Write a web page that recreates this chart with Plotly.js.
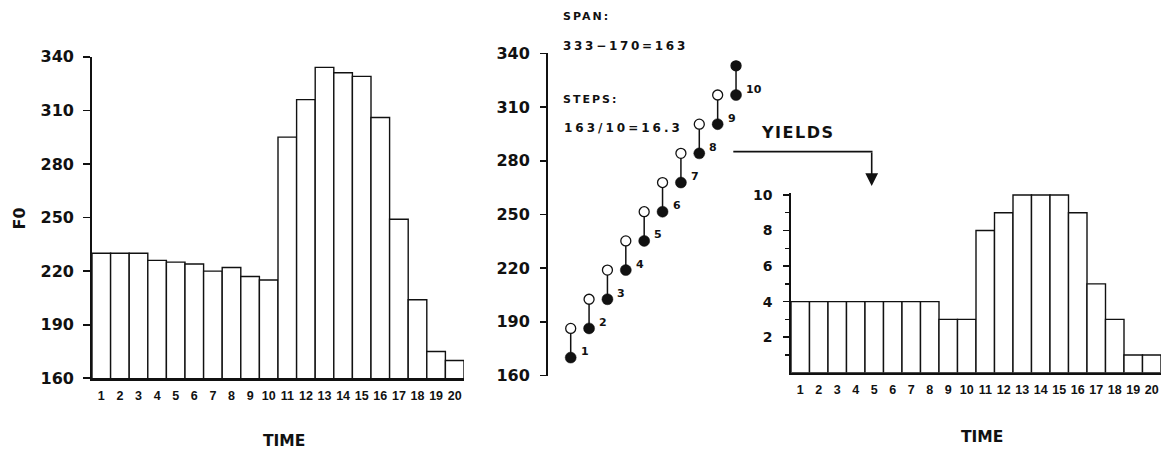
<!DOCTYPE html>
<html>
<head>
<meta charset="utf-8">
<script src="https://cdn.plot.ly/plotly-3.0.1.min.js"></script>
<style>
  html, body { margin: 0; padding: 0; background: #fff; }
  #chart { width: 1163px; height: 451px; }
</style>
</head>
<body>
<div id="chart"></div>
<script>
// ---- data ----
const timeSteps = [1, 2, 3, 4, 5, 6, 7, 8, 9, 10, 11, 12, 13, 14, 15, 16, 17, 18, 19, 20];
const f0Values = [230, 230, 230, 226, 225, 224, 220, 222, 217, 215, 295, 316, 334, 331, 329, 306, 249, 204, 175, 170];
const stepValues = [4, 4, 4, 4, 4, 4, 4, 4, 3, 3, 8, 9, 10, 10, 10, 9, 5, 3, 1, 1];
const pairIndex = [1, 2, 3, 4, 5, 6, 7, 8, 9, 10];
const lowerF0 = [170, 186.3, 202.6, 218.9, 235.2, 251.5, 267.8, 284.1, 300.4, 316.7];
const upperF0 = [186.3, 202.6, 218.9, 235.2, 251.5, 267.8, 284.1, 300.4, 316.7, 333];
const pairLabels = ['1', '2', '3', '4', '5', '6', '7', '8', '9', '10'];
const f0Ticks = [160, 190, 220, 250, 280, 310, 340];
const stepTicks = [2, 4, 6, 8, 10];
const stepMinorTicks = [1, 3, 5, 7, 9];
const spanTitle = 'SPAN:';
const spanText = '333−170=163';
const stepsTitle = 'STEPS:';
const stepsText = '163/10=16.3';
const yieldsText = 'YIELDS';
const timeTitle = 'TIME';
const f0Title = 'F0';

// ---- styles ----
const INK = '#111111';
const W = 1163, H = 451;
const px = v => v / W;
const py = v => 1 - v / H;
const tickFontY = { family: 'DejaVu Sans, Verdana, sans-serif', size: 16, color: INK, weight: 'bold' };
const tickFontX = { family: 'Liberation Sans, Arial, sans-serif', size: 12.5, color: INK, weight: 'bold' };

// stems between lower (filled) and upper (open) points
const stemX = [], stemY = [];
pairIndex.forEach((k, i) => { stemX.push(k, k, null); stemY.push(lowerF0[i], upperF0[i], null); });

const traces = [
  {
    type: 'bar', x: timeSteps, y: f0Values, xaxis: 'x', yaxis: 'y',
    width: 1, marker: { color: '#ffffff', line: { color: INK, width: 1.4 } },
    hoverinfo: 'x+y'
  },
  {
    type: 'scatter', mode: 'lines', x: stemX, y: stemY, xaxis: 'x2', yaxis: 'y2',
    line: { color: INK, width: 1.5 }, cliponaxis: false, hoverinfo: 'skip'
  },
  {
    type: 'scatter', mode: 'markers', x: pairIndex, y: upperF0, xaxis: 'x2', yaxis: 'y2',
    marker: { size: 10, color: upperF0.map((v, i) => i === upperF0.length - 1 ? INK : '#ffffff'),
              line: { color: INK, width: 1.3 } },
    cliponaxis: false
  },
  {
    type: 'scatter', mode: 'markers', x: pairIndex, y: lowerF0, xaxis: 'x2', yaxis: 'y2',
    marker: { size: 11, color: INK, line: { color: INK, width: 0.5 } },
    cliponaxis: false
  },
  {
    type: 'bar', x: timeSteps, y: stepValues, xaxis: 'x3', yaxis: 'y3',
    width: 1, marker: { color: '#ffffff', line: { color: INK, width: 1.4 } },
    hoverinfo: 'x+y'
  }
];

const annFont = (size) => ({ family: 'DejaVu Sans, Verdana, sans-serif', size: size, color: INK, weight: 'bold' });

const annotations = [
  { xref: 'paper', yref: 'paper', x: px(19), y: py(218.5), text: f0Title, textangle: -90,
    showarrow: false, font: annFont(16), xanchor: 'center', yanchor: 'middle' },
  { xref: 'paper', yref: 'paper', x: px(284), y: py(440.5), text: timeTitle,
    showarrow: false, font: annFont(15.5), xanchor: 'center', yanchor: 'middle' },
  { xref: 'paper', yref: 'paper', x: px(981.5), y: py(437), text: timeTitle,
    showarrow: false, font: annFont(15.5), xanchor: 'center', yanchor: 'middle' },
  { xref: 'paper', yref: 'paper', x: px(561), y: py(16.7), text: '<span style="letter-spacing:2px">' + spanTitle + '</span>',
    showarrow: false, font: annFont(11), xanchor: 'left', yanchor: 'middle' },
  { xref: 'paper', yref: 'paper', x: px(561), y: py(46.3), text: '<span style="letter-spacing:2.7px">' + spanText + '</span>',
    showarrow: false, font: annFont(12), xanchor: 'left', yanchor: 'middle' },
  { xref: 'paper', yref: 'paper', x: px(561), y: py(100), text: '<span style="letter-spacing:2px">' + stepsTitle + '</span>',
    showarrow: false, font: annFont(11), xanchor: 'left', yanchor: 'middle' },
  { xref: 'paper', yref: 'paper', x: px(562), y: py(128.3), text: '<span style="letter-spacing:3px">' + stepsText + '</span>',
    showarrow: false, font: annFont(12), xanchor: 'left', yanchor: 'middle' },
  { xref: 'paper', yref: 'paper', x: px(797.5), y: py(132.5), text: '<span style="letter-spacing:1.5px">' + yieldsText + '</span>',
    showarrow: false, font: annFont(16), xanchor: 'center', yanchor: 'middle' },
  { xref: 'paper', yref: 'paper', x: px(871.7), y: py(186), text: '',
    showarrow: true, axref: 'pixel', ayref: 'pixel', ax: 0, ay: -35,
    arrowhead: 2, arrowsize: 1.6, arrowwidth: 1.6, arrowcolor: INK, standoff: 0 }
];
pairIndex.forEach((k, i) => {
  annotations.push({
    xref: 'x2', yref: 'y2', x: k, y: lowerF0[i], text: pairLabels[i],
    showarrow: false, xanchor: 'left', yanchor: 'middle', xshift: 8, yshift: 6,
    font: annFont(11)
  });
});

const layout = {
  width: W, height: H,
  margin: { l: 0, r: 0, t: 0, b: 0 },
  paper_bgcolor: '#ffffff', plot_bgcolor: 'rgba(0,0,0,0)',
  showlegend: false,
  bargap: 0,
  xaxis: {
    domain: [px(92), px(464)], range: [0.5, 20.5], anchor: 'y',
    tickmode: 'array', tickvals: timeSteps, ticks: '', tickangle: 0,
    showline: true, linecolor: INK, linewidth: 2.5, showgrid: false, zeroline: false,
    tickfont: tickFontX, ticklabelstandoff: 4, fixedrange: true
  },
  yaxis: {
    domain: [py(378.3), py(56.7)], range: [160, 340], anchor: 'x',
    tickmode: 'array', tickvals: f0Ticks, ticks: 'outside', ticklen: 7, tickwidth: 1.6, tickcolor: INK,
    showline: true, linecolor: INK, linewidth: 1.8, showgrid: false, zeroline: false,
    tickfont: tickFontY, ticklabelstandoff: 6, fixedrange: true
  },
  xaxis2: {
    domain: [px(548), px(760)], range: [-0.236, 11.305], anchor: 'y2', visible: false, fixedrange: true
  },
  yaxis2: {
    domain: [py(375.5), py(53.3)], range: [160, 340], anchor: 'x2',
    tickmode: 'array', tickvals: f0Ticks, ticks: 'outside', ticklen: 6, tickwidth: 1.6, tickcolor: INK,
    showline: true, linecolor: INK, linewidth: 2, showgrid: false, zeroline: false,
    tickfont: tickFontY, ticklabelstandoff: 7, fixedrange: true
  },
  xaxis3: {
    domain: [px(791), px(1161)], range: [0.5, 20.5], anchor: 'y3',
    tickmode: 'array', tickvals: timeSteps, ticks: '', tickangle: 0,
    showline: true, linecolor: INK, linewidth: 2.5, showgrid: false, zeroline: false,
    tickfont: tickFontX, ticklabelstandoff: 4, fixedrange: true
  },
  yaxis3: {
    domain: [py(372.7), py(193.2)], range: [0, 10.1], anchor: 'x3',
    tickmode: 'array', tickvals: stepTicks, ticks: 'outside', ticklen: 6, tickwidth: 1.6, tickcolor: INK,
    minor: { tickmode: 'array', tickvals: stepMinorTicks, ticks: 'outside', ticklen: 4, tickwidth: 1.4, tickcolor: INK },
    showline: true, linecolor: INK, linewidth: 1.8, showgrid: false, zeroline: false,
    tickfont: { family: 'DejaVu Sans, Verdana, sans-serif', size: 14, color: INK, weight: 'bold' },
    ticklabelstandoff: 8, fixedrange: true
  },
  shapes: [
    { type: 'line', xref: 'paper', yref: 'paper', x0: px(733.3), x1: px(872.5), y0: py(151.7), y1: py(151.7),
      line: { color: INK, width: 1.8 } }
  ],
  annotations: annotations
};

Plotly.newPlot('chart', traces, layout, { displayModeBar: false, staticPlot: true });
</script>
</body>
</html>
